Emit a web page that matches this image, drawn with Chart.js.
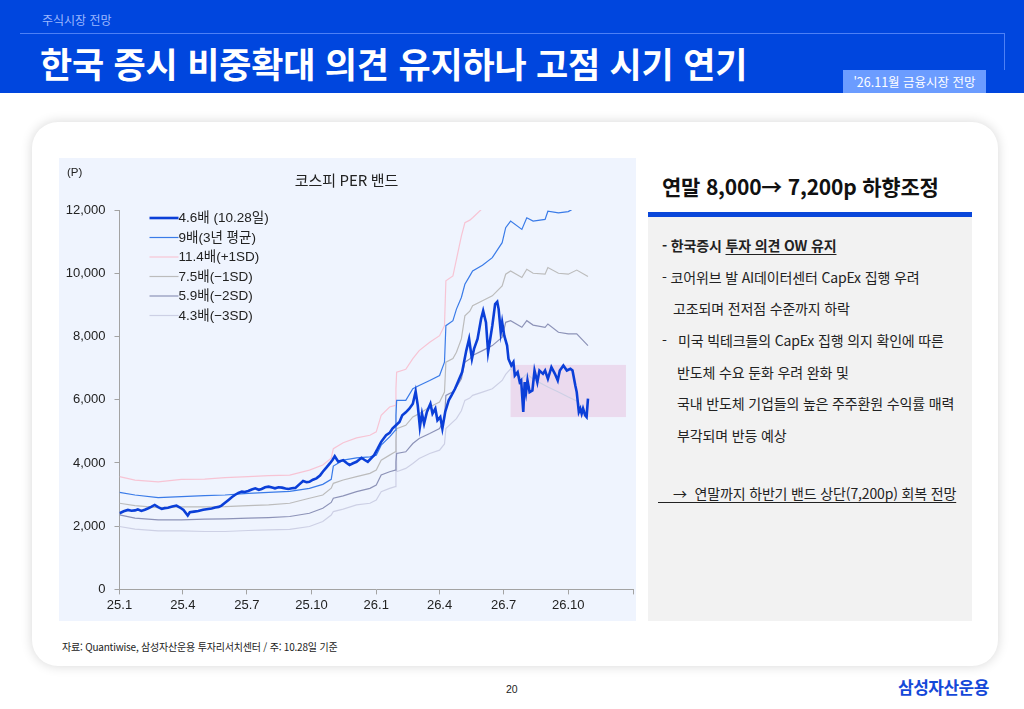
<!DOCTYPE html>
<html lang="ko">
<head>
<meta charset="utf-8">
<title>코스피 PER 밴드</title>
<script src="https://cdn.jsdelivr.net/npm/chart.js@4.4.1/dist/chart.umd.min.js"></script>
<style>
  body{margin:0;width:1024px;height:709px;overflow:hidden;background:#fff;position:relative;color:#222;font-family:'Noto Sans CJK KR','Noto Sans',sans-serif}
  .abs{position:absolute;white-space:nowrap}
  #header{left:0;top:0;width:1024px;height:93px;background:#0046de}
  #section{left:42px;top:12px;font-size:12px;color:#9db8ff;line-height:16px}
  #hline{left:20px;top:33px;width:985px;height:1px;background:#4d80f5}
  #vline{left:1004px;top:33px;width:1px;height:37px;background:#4d80f5}
  #title{left:40px;top:42px;font-size:35px;line-height:42px;font-weight:700;color:#fff;letter-spacing:-0.2px}
  #tag{left:843px;top:70px;width:143px;height:23px;background:#6b9cff;color:#fff;font-size:12.5px;line-height:24px;text-align:center}
  #card{left:32px;top:122px;width:966px;height:544px;border-radius:26px;background:#fff;box-shadow:0 0 12px rgba(0,0,0,0.16)}
  #panel{left:59px;top:158px;width:577px;height:463px;background:#eff4fe}
  #unit{left:67px;top:165px;font-size:11.5px;line-height:14px;font-family:'Liberation Sans',Arial,sans-serif}
  #side-title{left:662px;top:172px;font-size:21px;line-height:28px;font-weight:700;color:#111;letter-spacing:-0.2px}
  #side-bar{left:648px;top:212px;width:324px;height:5px;background:#0a47da}
  #side-box{left:648px;top:217px;width:324px;height:404px;background:#f2f2f2}
  .line{font-size:14px;line-height:18px;color:#222;letter-spacing:-0.15px}
  .u{text-decoration:underline;text-underline-offset:3px}
  #source{left:62px;top:640px;font-size:10px;line-height:14px;color:#222;letter-spacing:-0.2px}
  #page{left:506px;top:682px;font-size:10.5px;line-height:14px;font-family:'Liberation Sans',Arial,sans-serif}
  #logo{left:898px;top:676px;font-size:17px;line-height:22px;font-weight:700;color:#1448d8;letter-spacing:-0.5px}
</style>
</head>
<body>
<div class="abs" id="header"></div>
<div class="abs" id="section">주식시장 전망</div>
<div class="abs" id="hline"></div>
<div class="abs" id="vline"></div>
<div class="abs" id="title">한국 증시 비중확대 의견 유지하나 고점 시기 연기</div>
<div class="abs" id="tag">'26.11월 금융시장 전망</div>

<div class="abs" id="card"></div>
<div class="abs" id="panel"><canvas id="chart"></canvas></div>
<div class="abs" id="unit">(P)</div>

<div class="abs" id="side-title">연말 8,000→ 7,200p 하향조정</div>
<div class="abs" id="side-bar"></div>
<div class="abs" id="side-box"></div>
<div class="abs line" style="left:662px;top:236px;font-weight:700">- 한국증시 <span class="u">투자 의견 OW 유지</span></div>
<div class="abs line" style="left:662px;top:268px">- 코어위브 발 AI데이터센터 CapEx 집행 우려</div>
<div class="abs line" style="left:673px;top:299px">고조되며 전저점 수준까지 하락</div>
<div class="abs line" style="left:662px;top:331px">-&nbsp;&nbsp; 미국 빅테크들의 CapEx 집행 의지 확인에 따른</div>
<div class="abs line" style="left:677px;top:363px">반도체 수요 둔화 우려 완화 및</div>
<div class="abs line" style="left:677px;top:394px">국내 반도체 기업들의 높은 주주환원 수익률 매력</div>
<div class="abs line" style="left:677px;top:426px">부각되며 반등 예상</div>
<div class="abs line u" style="left:658px;top:484px;width:295px">&nbsp;&nbsp;&nbsp;&nbsp;→&nbsp; 연말까지 하반기 밴드 상단(7,200p) 회복 전망</div>

<div class="abs" id="source">자료: Quantiwise, 삼성자산운용 투자리서치센터 / 주: 10.28일 기준</div>
<div class="abs" id="page">20</div>
<div class="abs" id="logo">삼성자산운용</div>

<script>
// x values are days counted from 2025-01-01
const xTickDays = [0, 90, 181, 273, 365, 455, 546, 638, 730];
const xTickLabels = ['25.1', '25.4', '25.7', '25.10', '26.1', '26.4', '26.7', '26.10', ''];

const seriesNames = ['4.6배 (10.28일)', '9배(3년 평균)', '11.4배(+1SD)', '7.5배(−1SD)', '5.9배(−2SD)', '4.3배(−3SD)'];
const seriesColors = ['#0b3fd8', '#3a7be8', '#f7c4d4', '#bcbcbc', '#8d93b8', '#cdd0e5'];

// KOSPI
const kospiDays = [0, 6, 12, 17, 22, 26, 31, 36, 41, 45, 50, 55, 60, 64, 69, 75, 81, 86, 91, 97,
  100, 106, 112, 119, 126, 131, 136, 141, 145, 150, 155, 160, 164, 169, 174, 178, 183, 188,
  193, 198, 202, 207, 212, 217, 221, 226, 231, 236, 240, 245, 250, 256, 261, 266, 270, 275, 280, 285, 289, 294, 299, 303, 306, 311, 318, 323, 327, 332, 337, 344, 348, 353, 358, 362,
  367, 372, 379, 384, 388, 393, 398, 402, 407, 412, 417, 421, 424, 427, 430, 433, 437, 442, 445, 449, 452, 456, 459,
  463, 468, 472, 477, 482, 487, 493, 497, 501, 504, 509, 514, 517, 521, 524, 527, 530, 534, 537, 539,
  542, 544, 547, 551, 553, 557, 560, 562, 566, 569, 571, 574, 576, 578, 580, 583, 587, 590, 594, 597,
  602, 605, 609, 614, 619, 623, 626, 631, 636, 641, 644, 648, 650, 653, 655, 657, 659, 662, 664, 666];
const kospiVals = [2409, 2470, 2514, 2490, 2500, 2530, 2482, 2520, 2567, 2610, 2671, 2600, 2545, 2570, 2580, 2620, 2651, 2590, 2514, 2337,
  2440, 2460, 2482, 2520, 2545, 2560, 2588, 2610, 2651, 2740, 2829, 2920, 2986, 3050, 3092, 3080, 3114, 3160,
  3197, 3150, 3176, 3230, 3250, 3220, 3197, 3230, 3218, 3190, 3176, 3200, 3210, 3330, 3428, 3390, 3402, 3470, 3512, 3600, 3722, 3850, 3984, 4100, 4210, 4037, 4089, 4000, 3932, 3990, 4037, 4163, 4100, 4037, 4150, 4247,
  4450, 4667, 4876, 4950, 5087, 5190, 5296, 5505, 5600, 5717, 5874, 6262, 5821, 5139, 5559, 5244, 5612, 5874, 5559, 5717, 5349, 5454, 5087,
  5612, 5979, 6136, 6346, 6609, 6871, 7553, 7921, 7291, 7606, 7921, 8551, 8813, 8447, 7502, 7921, 8341, 9024, 9097, 8866,
  8132, 8447, 8026, 7711, 7291, 7081, 7186, 6765, 6871, 6556, 6609, 5612, 6556, 6241, 6609, 6241, 6293, 6923, 6556, 6923,
  6818, 6923, 6661, 7029, 6818, 6609, 6923, 7081, 6923, 6976, 6923, 6451, 6241, 5612, 5717, 5559, 5717, 5505, 5454, 6031];

// PER bands
const bandDays = [0, 22, 55, 88, 121, 150, 183, 212, 242, 270, 289, 301, 304, 318, 337, 356, 365, 372, 384, 392,
  393, 394, 407, 417, 426, 441, 455, 462, 464, 474, 479, 486, 491, 498, 502, 516, 530, 544, 549, 556, 572,
  579, 588, 605, 609, 624, 638, 650, 666];
const band9 = [3071, 2986, 2903, 2935, 2966, 2986, 3039, 3071, 3100, 3197, 3323, 3480, 3900, 4089, 4160, 4194, 4247, 4561, 4824, 5034,
  5500, 5979, 5979, 6346, 6451, 6609, 6765, 7187, 8341, 8498, 8866, 9234, 9650, 9915, 10073, 10250, 10494, 10967, 11439, 11650, 11386,
  11754, 11649, 11702, 11962, 11910, 11950, 12100, 12150];
const bandPlus1 = [3565, 3459, 3400, 3480, 3491, 3533, 3565, 3596, 3617, 3774, 3932, 4150, 4450, 4640, 4793, 4876, 4982, 5505, 5770, 5821,
  6350, 6871, 6960, 7300, 7553, 7818, 8026, 8341, 9758, 9915, 10441, 11175, 11597, 11679, 11754, 12050];
const bandMinus1 = [2724, 2651, 2588, 2609, 2609, 2620, 2651, 2671, 2724, 2882, 2986, 3200, 3354, 3459, 3565, 3669, 3774, 4089, 4247, 4353,
  4720, 5087, 5190, 5454, 5559, 5770, 5927, 6241, 7186, 7300, 7500, 7921, 8650, 8800, 8970, 9128, 9285, 9600, 9969, 10073, 9864,
  10126, 10000, 9969, 10180, 10000, 9969, 10100, 9896];
const bandMinus2 = [2357, 2252, 2199, 2199, 2220, 2231, 2252, 2273, 2305, 2409, 2567, 2750, 2882, 2960, 3092, 3197, 3301, 3617, 3722, 3774,
  4040, 4299, 4353, 4614, 4772, 4929, 5087, 5402, 6136, 6250, 6400, 6661, 7187, 7291, 7396, 7553, 7711, 7974, 8447, 8499, 8290,
  8499, 8360, 8290, 8395, 8132, 8080, 8080, 7711];
const bandMinus3 = [1990, 1905, 1853, 1853, 1832, 1832, 1863, 1884, 1900, 1989, 2147, 2350, 2462, 2540, 2672, 2724, 2829, 3092, 3197, 3249,
  5950, 3722, 3827, 3984, 4142, 4299, 4404, 4600, 5087, 5300, 5402, 5650, 5979, 6050, 6136, 6241, 6346, 6609, 6800, 6976, 6661,
  6818, 6650, 6451, 6400, 6241, 6084, 5960, 5559];

// shaded target range (days, points)
const boxDays = [556, 720];
const boxVals = [5450, 7100];

const yMin = 0, yMax = 12000, yStep = 2000;

const zip = (days, vals) => days.map((d, i) => ({x: d, y: vals[i] ?? null}));

const lineSets = [
  zip(kospiDays, kospiVals), zip(bandDays, band9), zip(bandDays, bandPlus1),
  zip(bandDays, bandMinus1), zip(bandDays, bandMinus2), zip(bandDays, bandMinus3)
];

const rangeBox = {
  id: 'rangeBox',
  beforeDatasetsDraw(chart){
    const {ctx, scales:{x, y}} = chart;
    const x0 = x.getPixelForValue(boxDays[0]), x1 = x.getPixelForValue(boxDays[1]);
    const y0 = y.getPixelForValue(boxVals[1]), y1 = y.getPixelForValue(boxVals[0]);
    ctx.save();
    ctx.fillStyle = '#ebdaee';
    ctx.fillRect(x0, y0, x1 - x0, y1 - y0);
    ctx.restore();
  }
};

// legend sits inside the plot, top-left
const insideLegend = {
  id: 'insideLegend',
  afterDraw(chart){
    const {ctx, chartArea} = chart;
    ctx.save();
    ctx.font = '13.5px "Liberation Sans", "Noto Sans CJK KR", sans-serif';
    ctx.textBaseline = 'middle';
    chart.data.datasets.forEach((ds, i) => {
      const y = chartArea.top + 8 + i * 19.5;
      const x = chartArea.left + 30;
      ctx.strokeStyle = ds.borderColor;
      ctx.lineWidth = ds.borderWidth;
      ctx.beginPath(); ctx.moveTo(x, y); ctx.lineTo(x + 29, y); ctx.stroke();
      ctx.fillStyle = '#222';
      ctx.fillText(ds.label, x + 29, y + 0.5);
    });
    ctx.restore();
  }
};

const tickFont = {family: "'Liberation Sans', Arial, sans-serif", size: 13};

new Chart(document.getElementById('chart'), {
  type: 'line',
  data: {
    datasets: lineSets.map((data, i) => ({
      label: seriesNames[i],
      data,
      borderColor: seriesColors[i],
      borderWidth: i === 0 ? 2.6 : 1.2,
      pointRadius: 0,
      tension: 0,
      fill: false
    }))
  },
  options: {
    responsive: true,
    maintainAspectRatio: false,
    animation: false,
    layout: {padding: {left: 0, right: 2, top: 0, bottom: 5}},
    plugins: {
      legend: {display: false},
      tooltip: {enabled: false},
      title: {
        display: true,
        text: '코스피 PER 밴드',
        color: '#222',
        font: {family: "'Noto Sans CJK KR', sans-serif", size: 15, weight: 'normal'},
        padding: {top: 13, bottom: 21}
      }
    },
    scales: {
      x: {
        type: 'linear',
        min: xTickDays[0],
        max: xTickDays[xTickDays.length - 1],
        afterBuildTicks: s => { s.ticks = xTickDays.map(v => ({value: v})); },
        ticks: {callback: (v, i) => xTickLabels[i], autoSkip: false, maxRotation: 0, padding: 3, color: '#222', font: tickFont},
        grid: {drawOnChartArea: false, tickLength: 5, color: '#a3a3a3'},
        border: {color: '#a3a3a3'}
      },
      y: {
        min: yMin,
        max: yMax,
        afterFit: s => { s.width = 60.5; },
        ticks: {stepSize: yStep, padding: 9, color: '#222', font: tickFont, callback: v => v.toLocaleString('en-US')},
        grid: {drawOnChartArea: false, tickLength: 5, color: '#a3a3a3'},
        border: {color: '#a3a3a3'}
      }
    }
  },
  plugins: [rangeBox, insideLegend]
});
</script>
</body>
</html>
